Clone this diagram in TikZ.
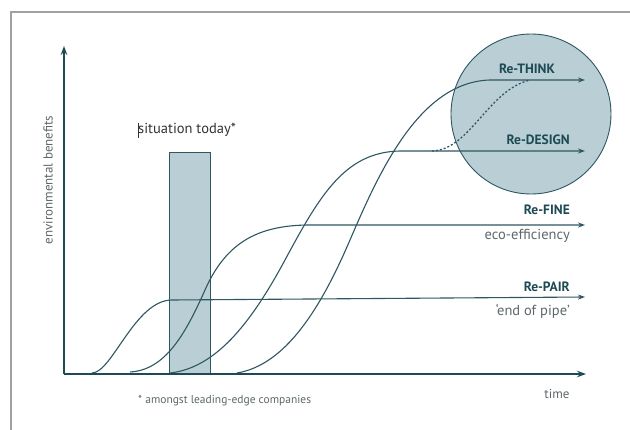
\documentclass[tikz,border=0pt]{standalone}
\usepackage{fontspec}
\setmainfont{PT Sans}
\usetikzlibrary{arrows.meta, calc}
\definecolor{tealdark}{HTML}{1E4A54}
\definecolor{curveline}{HTML}{2E5761}
\definecolor{panelfill}{HTML}{B9CFD5}
\definecolor{textgray}{HTML}{5E686B}
\definecolor{framegray}{HTML}{A0A0A0}
\tikzset{
    my-axis/.style={
        draw=tealdark, line width=2.6pt, -{Stealth[length=9pt, width=6.5pt]}
    },
    my-curve/.style={
        draw=curveline, line width=1.1pt, -{Stealth[length=7pt, width=5pt]}
    },
    my-dotted/.style={
        draw=curveline, line width=1.3pt, dash pattern=on 2pt off 2pt
    },
    my-panel/.style={
        draw=curveline, fill=panelfill, line width=0.9pt
    },
    my-label/.style={
        font=\fontsize{13.5}{15}\selectfont\bfseries, text=tealdark, inner sep=0pt
    },
    my-note/.style={
        font=\fontsize{13}{15}\selectfont, text=textgray, inner sep=0pt
    },
}

\begin{document}
\begin{tikzpicture}[x=1pt, y=-1pt]

        % CANVAS AND FRAME -----------------------------------------------------------------------
        \useasboundingbox (0,0) rectangle (630,430);
        \fill[white] (0,0) rectangle (630,430);
        \draw[framegray, line width=1.2pt] (11,430) -- (11,12) -- (630,12);

        % AXIS POINTS
        \coordinate (ORIGIN) at (64,374);
        \coordinate (YTOP)   at ($(ORIGIN) + (0,-328)$);
        \coordinate (XEND)   at ($(ORIGIN) + (522,0)$);

        % SITUATION TODAY BAR AND RE-THINK / RE-DESIGN CIRCLE
        \draw[my-panel] (169,152) rectangle (210,374);
        \draw[my-panel] (531,114) circle[radius=80];

        % CURVE END POINTS
        \coordinate (RETHINKEND)  at (585,80);
        \coordinate (REDESIGNEND) at (585,151);
        \coordinate (REFINEEND)   at (585,225);
        \coordinate (REPAIREND)   at (585,297);

        % S-CURVES -------------------------------------------------------------------------------
        \draw[my-curve] (92,373)  .. controls (112,373) and (135,300) .. (172,300) -- (REPAIREND);
        \draw[my-curve] (130,372) .. controls (165,370) and (185,335) .. (205,290)
                                  .. controls (225,245) and (255,225) .. (310,225) -- (REFINEEND);
        \draw[my-curve] (170,373) .. controls (215,368) and (250,325) .. (285,260)
                                  .. controls (320,195) and (345,152) .. (400,151) -- (REDESIGNEND);
        \draw[my-curve] (237,373) .. controls (285,365) and (320,310) .. (350,240)
                                  .. controls (380,170) and (420,82)  .. (490,80)  -- (RETHINKEND);

        % DOTTED JUMP FROM RE-DESIGN TO RE-THINK
        \draw[my-dotted] (432,151) .. controls (470,150) and (488,90) .. (530,80);

        % AXES
        \draw[my-axis] (ORIGIN) -- (YTOP);
        \draw[my-axis] (ORIGIN) -- (XEND);

        % CURVE LABELS ---------------------------------------------------------------------------
        \node[my-label]              (RETHINK)  at (527,69)  {Re-THINK};
        \node[my-label, anchor=east] (REDESIGN) at (570,140) {Re-DESIGN};
        \node[my-label, anchor=east] (REFINE)   at (570,210) {Re-FINE};
        \node[my-note,  anchor=east, font=\fontsize{14.5}{16}\selectfont] (ECO)  at (570,236) {eco-efficiency};
        \node[my-label, anchor=east] (REPAIR)   at (570,287) {Re-PAIR};
        \node[my-note,  anchor=east, font=\fontsize{14.5}{16}\selectfont] (PIPE) at (570,311) {`end of pipe'};

        % AXIS LABELS AND NOTES
        \node[my-note]                    (TIME)     at (557,394) {time};
        \node[my-note, rotate=90]         (YLABEL)   at (48,180)  {environmental benefits};
        \node[my-note, text=black!80, anchor=west, font=\fontsize{14.5}{16}\selectfont] (TODAY) at (138,130) {situation today*};
        \draw[black!80, line width=0.7pt] ($(TODAY.west) + (0.5,-7)$) -- ($(TODAY.west) + (0.5,8)$);
        \node[my-note, font=\fontsize{11.5}{13}\selectfont, anchor=west] (FOOTNOTE) at (138,401)
            {* amongst leading-edge companies};

\end{tikzpicture}
\end{document}
